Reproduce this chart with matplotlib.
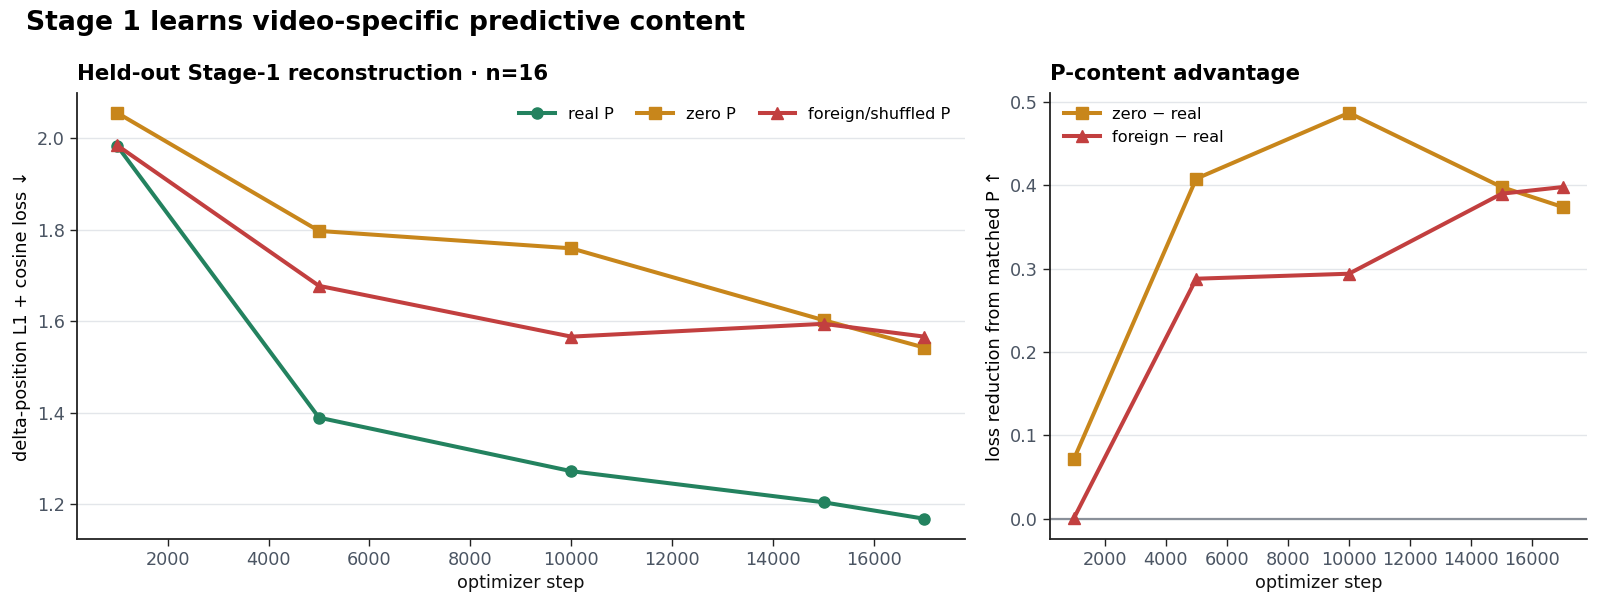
import matplotlib
matplotlib.use("Agg")
import matplotlib.pyplot as plt

steps = [1000, 5000, 10000, 15000, 17000]
real_p = [1.983, 1.389, 1.272, 1.204, 1.168]
zero_p = [2.055, 1.797, 1.759, 1.602, 1.542]
foreign_p = [1.984, 1.677, 1.566, 1.594, 1.566]
zero_minus_real = [0.072, 0.408, 0.487, 0.398, 0.374]
foreign_minus_real = [0.001, 0.288, 0.294, 0.390, 0.398]

C_REAL = "#23825f"
C_ZERO = "#c8861b"
C_FOR = "#c23f3f"
TICK_C = "#4b5563"
GRID_C = "#e3e6ea"
SPINE_C = "#222222"

plt.rcParams["font.family"] = ["DejaVu Sans"]

fig = plt.figure(figsize=(16, 6.05), dpi=100)
ax1 = fig.add_axes([0.048, 0.109, 0.555, 0.738])
ax2 = fig.add_axes([0.656, 0.109, 0.336, 0.738])

lw = 2.9
ms = 8

ax1.plot(steps, real_p, color=C_REAL, lw=lw, marker="o", ms=ms, label="real P", zorder=3)
ax1.plot(steps, zero_p, color=C_ZERO, lw=lw, marker="s", ms=ms, label="zero P", zorder=3)
ax1.plot(steps, foreign_p, color=C_FOR, lw=lw, marker="^", ms=ms + 1, label="foreign/shuffled P", zorder=3)

ax2.axhline(0, color="#8a9099", lw=1.6, zorder=2)
ax2.plot(steps, zero_minus_real, color=C_ZERO, lw=lw, marker="s", ms=ms, label="zero \u2212 real", zorder=3)
ax2.plot(steps, foreign_minus_real, color=C_FOR, lw=lw, marker="^", ms=ms + 1, label="foreign \u2212 real", zorder=3)

FS = 12.7
for ax in (ax1, ax2):
    ax.grid(axis="y", color=GRID_C, lw=1.0)
    ax.set_axisbelow(True)
    for s in ("top", "right"):
        ax.spines[s].set_visible(False)
    for s in ("left", "bottom"):
        ax.spines[s].set_color(SPINE_C)
        ax.spines[s].set_linewidth(1.3)
    ax.tick_params(axis="both", labelsize=FS, labelcolor=TICK_C, color=SPINE_C, length=5, width=1.0)
    ax.set_xlabel("optimizer step", fontsize=FS, color="#111111")

ax1.set_xticks([2000, 4000, 6000, 8000, 10000, 12000, 14000, 16000])
ax2.set_xticks([2000, 4000, 6000, 8000, 10000, 12000, 14000, 16000])
ax1.set_yticks([1.2, 1.4, 1.6, 1.8, 2.0])
ax2.set_yticks([0.0, 0.1, 0.2, 0.3, 0.4, 0.5])

ax1.set_ylabel("delta-position L1 + cosine loss \u2193", fontsize=FS)
ax2.set_ylabel("loss reduction from matched P \u2191", fontsize=FS)

ax1.set_title("Held-out Stage-1 reconstruction \u00b7 n=16", loc="left", fontsize=15.3, fontweight="bold", pad=9)
ax2.set_title("P-content advantage", loc="left", fontsize=15.3, fontweight="bold", pad=9)

ax1.legend(loc="upper right", ncol=3, frameon=False, fontsize=11.6, handlelength=2.2, columnspacing=1.5)
ax2.legend(loc="upper left", ncol=1, frameon=False, fontsize=11.6, handlelength=2.2)

fig.text(0.016, 0.962, "Stage 1 learns video-specific predictive content", fontsize=19.2, fontweight="bold", va="center", ha="left")

fig.savefig("out.png", dpi=100)
